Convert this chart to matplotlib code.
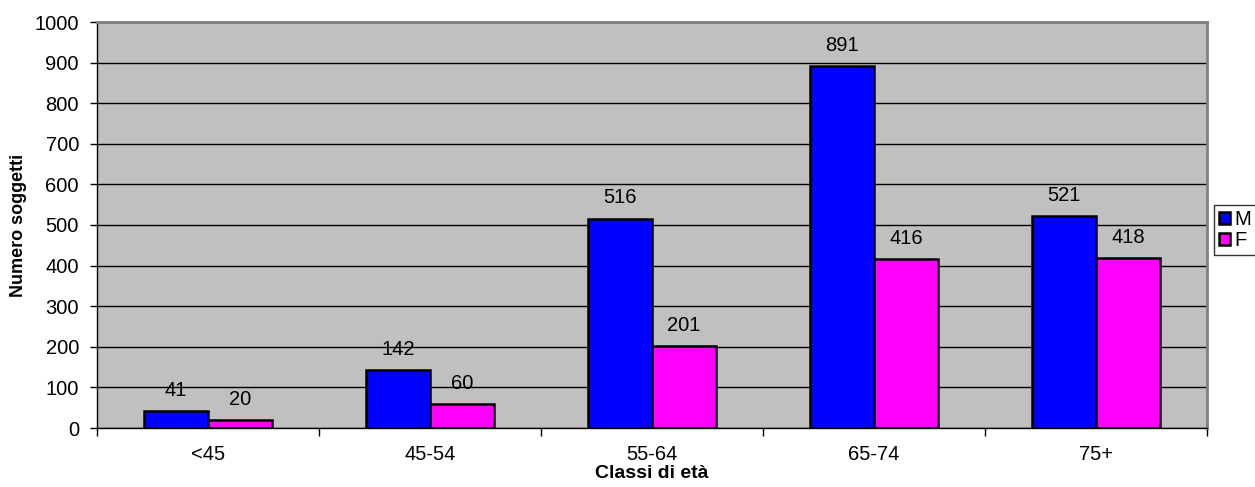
import numpy as np
import matplotlib.pyplot as plt

plt.rcParams['font.family'] = ['Liberation Sans', 'DejaVu Sans']

classi = ["<45", "45-54", "55-64", "65-74", "75+"]
maschi = [41, 142, 516, 891, 521]
femmine = [20, 60, 201, 416, 418]

fig = plt.figure(figsize=(12.55, 4.87), dpi=100)
ax = fig.add_axes([97 / 1255, 1 - 428 / 487, 1110 / 1255, 406 / 487])
ax.set_facecolor("#c0c0c0")

x = np.arange(len(classi))
w = 0.288
b1 = ax.bar(x - w / 2, maschi, w, color="#0000ff", edgecolor="black", linewidth=1.8, label="M", zorder=3)
b2 = ax.bar(x + w / 2, femmine, w, color="#ff00ff", edgecolor="black", linewidth=1.8, label="F", zorder=3)

for bars in (b1, b2):
    for r in bars:
        ax.annotate(str(int(r.get_height())), (r.get_x() + r.get_width() / 2, r.get_height()),
                    xytext=(0, 8), textcoords="offset points", ha="center", va="bottom", fontsize=14.5)

ax.set_xlim(-0.5, len(classi) - 0.5)
ax.set_ylim(0, 1000)
ax.set_yticks(np.arange(0, 1001, 100))
ax.yaxis.grid(True, color="black", linewidth=1, zorder=0)
ax.set_axisbelow(True)

ax.set_xticks(x)
ax.set_xticklabels(classi, fontsize=14.5)
ax.set_xticks(np.arange(-0.5, len(classi), 1), minor=True)
ax.tick_params(axis="x", which="major", length=0, pad=12)
ax.tick_params(axis="x", which="minor", length=6, width=1)
ax.tick_params(axis="y", labelsize=14.5, length=5, width=1, pad=8)

for s in ("top", "right"):
    ax.spines[s].set_color("#808080")
    ax.spines[s].set_linewidth(2)
for s in ("left", "bottom"):
    ax.spines[s].set_color("black")
    ax.spines[s].set_linewidth(1)

ax.set_xlabel("Classi di età", fontsize=14, fontweight="bold", labelpad=1)
ax.set_ylabel("Numero soggetti", fontsize=13, fontweight="bold", labelpad=5)

leg = ax.legend(loc="center left", bbox_to_anchor=(1214 / 1255, 1 - 230 / 487),
                bbox_transform=fig.transFigure, fontsize=14.5, frameon=True, fancybox=False,
                handlelength=0.55, handleheight=0.55, handletextpad=0.2, borderpad=0.25,
                labelspacing=0.1, borderaxespad=0)
leg.get_frame().set_edgecolor("black")
leg.get_frame().set_linewidth(1)

fig.savefig("out.png", dpi=100)
